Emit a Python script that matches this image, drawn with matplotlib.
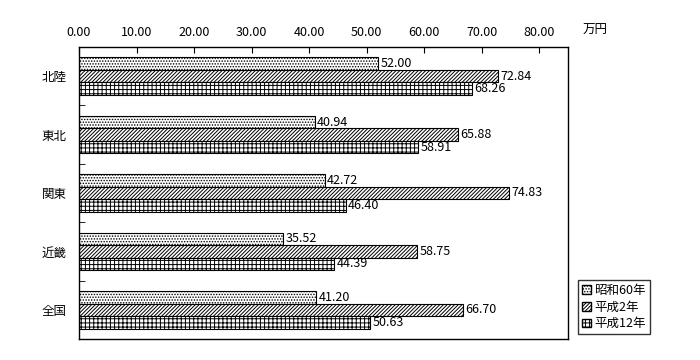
import matplotlib
matplotlib.use('Agg')
import matplotlib.pyplot as plt
import matplotlib.patches as mpatches
import numpy as np

plt.rcParams['font.family'] = ['Noto Sans CJK JP', 'DejaVu Sans']
plt.rcParams['hatch.linewidth'] = 0.7

# data
regions = ['北陸', '東北', '関東', '近畿', '全国']
series_names = ['昭和60年', '平成2年', '平成12年']
s60 = [52.00, 40.94, 42.72, 35.52, 41.20]
h2 = [72.84, 65.88, 74.83, 58.75, 66.70]
h12 = [68.26, 58.91, 46.40, 44.39, 50.63]
xticks = [0, 10, 20, 30, 40, 50, 60, 70, 80]

hatches = ['......', '/////////', '++++']
series = [s60, h2, h12]

fig = plt.figure(figsize=(7, 3.6), dpi=100)
ax = fig.add_axes([79 / 700, 1 - 339 / 360, 489 / 700, 292 / 360])

y = np.arange(len(regions))
bh = 0.215
for i, (vals, hat) in enumerate(zip(series, hatches)):
    pos = y + (i - 1) * bh
    ax.barh(pos, vals, height=bh, color='white', edgecolor='black',
            hatch=hat, linewidth=0.8)
    for p, v in zip(pos, vals):
        ax.text(v + 0.4, p, f'{v:.2f}', va='center', ha='left', fontsize=9)

ax.set_xlim(0, 85)
ax.set_ylim(len(regions) - 0.5, -0.5)
ax.set_xticks(xticks)
ax.set_xticklabels([f'{t:.2f}' for t in xticks], fontsize=9)
ax.xaxis.tick_top()
ax.tick_params(axis='x', direction='in', length=4, pad=6)
ax.set_yticks(y)
ax.set_yticklabels(regions, fontsize=9)
ax.tick_params(axis='y', which='major', length=0, pad=9)
ax.set_yticks(np.arange(-0.5, len(regions), 1), minor=True)
ax.tick_params(axis='y', which='minor', direction='in', length=4)
for s in ax.spines.values():
    s.set_linewidth(1)

fig.text(583 / 700, 1 - 30 / 360, '万円', fontsize=9, va='center', ha='left')

handles = [mpatches.Patch(facecolor='white', edgecolor='black', hatch=h, label=n)
           for h, n in zip(hatches, series_names)]
leg = fig.legend(handles=handles, loc='lower left', bbox_to_anchor=(578 / 700, 1 - 334 / 360),
                 fontsize=9, frameon=True, fancybox=False, edgecolor='black',
                 handlelength=0.7, handleheight=0.7, handletextpad=0.3,
                 borderpad=0.3, labelspacing=0.3, borderaxespad=0)
leg.get_frame().set_linewidth(1)

fig.savefig('out.png', dpi=100, facecolor='white')
